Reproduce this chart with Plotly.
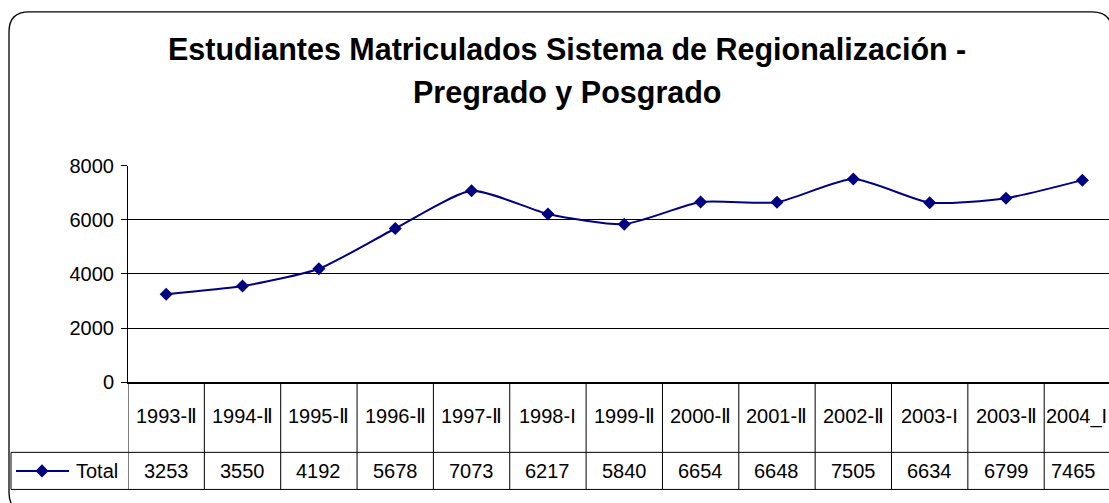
import plotly.graph_objects as go

# datos
periodos = ["1993-Ⅱ", "1994-Ⅱ", "1995-Ⅱ", "1996-Ⅱ", "1997-Ⅱ", "1998-I", "1999-Ⅱ",
            "2000-Ⅱ", "2001-Ⅱ", "2002-Ⅱ", "2003-I", "2003-Ⅱ", "2004_I"]
total = [3253, 3550, 4192, 5678, 7073, 6217, 5840, 6654, 6648, 7505, 6634, 6799, 7465]
y_ticks = [0, 2000, 4000, 6000, 8000]

W, H = 1109, 503
NAVY = "#000080"
FONT = "Arial, Liberation Sans, sans-serif"

# la captura comprime un poco el eje vertical; se corrige aqui
SY, OY = 0.954, 11.7


def px(x):
    return x / W


def py(y):
    return 1 - ((y - OY) / SY) / H


fig = go.Figure()
fig.add_trace(go.Scatter(
    x=list(range(len(periodos))), y=total,
    mode="lines+markers",
    line=dict(color=NAVY, width=2, shape="spline", smoothing=0.6),
    marker=dict(symbol="diamond", size=10, color=NAVY),
    showlegend=False, cliponaxis=False,
))

shapes = []
# borde redondeado del area del grafico
L, T, R, B, r = 9, 12.5, 1112, 512, 20
path = (f"M {px(L + r)},{py(T)} L {px(R - r)},{py(T)} "
        f"Q {px(R)},{py(T)} {px(R)},{py(T + r)} "
        f"L {px(R)},{py(B - r)} Q {px(R)},{py(B)} {px(R - r)},{py(B)} "
        f"L {px(L + r)},{py(B)} Q {px(L)},{py(B)} {px(L)},{py(B - r)} "
        f"L {px(L)},{py(T + r)} Q {px(L)},{py(T)} {px(L + r)},{py(T)} Z")
shapes.append(dict(type="path", xref="paper", yref="paper", path=path,
                   line=dict(color="black", width=1.3)))

# tabla de datos
y_axis, y_mid, y_bot = 382, 452, 489
shapes.append(dict(type="line", xref="paper", yref="paper",
                   x0=px(11), x1=1.02, y0=py(y_mid), y1=py(y_mid),
                   line=dict(color="black", width=1)))
shapes.append(dict(type="line", xref="paper", yref="paper",
                   x0=px(11), x1=1.02, y0=py(y_bot), y1=py(y_bot),
                   line=dict(color="black", width=1)))
shapes.append(dict(type="line", xref="paper", yref="paper",
                   x0=px(11), x1=px(11), y0=py(y_mid), y1=py(y_bot),
                   line=dict(color="black", width=1)))
for k in range(len(periodos) + 1):
    shapes.append(dict(type="line", xref="x", yref="paper",
                       x0=k - 0.5, x1=k - 0.5, y0=py(y_axis), y1=py(y_bot),
                       line=dict(color="black", width=1)))

# leyenda dentro de la tabla
ly = py(470.5)
shapes.append(dict(type="line", xref="paper", yref="paper",
                   x0=px(16), x1=px(69), y0=ly, y1=ly,
                   line=dict(color=NAVY, width=2)))
d = 6.5
shapes.append(dict(type="path", xref="paper", yref="paper",
                   path=(f"M {px(42)},{py(470.5 - d)} L {px(42 + d)},{ly} "
                         f"L {px(42)},{py(470.5 + d)} L {px(42 - d)},{ly} Z"),
                   fillcolor=NAVY, line=dict(color=NAVY, width=0)))

txt = dict(size=20, color="black", family=FONT)
annotations = []
last = len(periodos) - 1
for i, (p, v) in enumerate(zip(periodos, total)):
    # la ultima columna queda recortada, su texto se centra en la parte visible
    sh_p = -6 if i == last else 0
    sh_v = -9 if i == last else 0
    annotations.append(dict(x=i, xref="x", y=py(416), yref="paper", text=p,
                            xanchor="center", yanchor="middle", xshift=sh_p,
                            showarrow=False, font=txt))
    annotations.append(dict(x=i, xref="x", y=py(471), yref="paper", text=str(v),
                            xanchor="center", yanchor="middle", xshift=sh_v,
                            showarrow=False, font=txt))
annotations.append(dict(x=px(74), y=py(471), xref="paper", yref="paper", text="Total",
                        xanchor="left", yanchor="middle", showarrow=False, font=txt))

# titulo
ttl = dict(size=30.5, color="black", family=FONT)
annotations.append(dict(x=px(567), y=py(50), xref="paper", yref="paper",
                        text="<b>Estudiantes Matriculados Sistema de Regionalización -</b>",
                        xanchor="center", yanchor="middle", showarrow=False, font=ttl))
annotations.append(dict(x=px(567), y=py(93), xref="paper", yref="paper",
                        text="<b>Pregrado y Posgrado</b>",
                        xanchor="center", yanchor="middle", showarrow=False, font=ttl))

fig.update_layout(
    width=W, height=H,
    margin=dict(l=0, r=0, t=0, b=0),
    paper_bgcolor="white", plot_bgcolor="white",
    font=dict(family=FONT, size=20, color="black"),
    shapes=shapes, annotations=annotations,
    xaxis=dict(domain=[px(128), 1], range=[-0.5, -0.5 + (W - 128) / 76.35],
               showticklabels=False, showgrid=False, zeroline=False,
               showline=True, linecolor="black", linewidth=2, ticks=""),
    yaxis=dict(domain=[py(382), py(166)], range=[0, 8000],
               tickvals=y_ticks, ticks="outside", ticklen=6, tickcolor="black",
               ticklabelstandoff=3,
               showgrid=True, gridcolor="black", gridwidth=1, zeroline=False,
               showline=True, linecolor="black", linewidth=1,
               tickfont=dict(size=20, family=FONT, color="black")),
)

fig.write_html("out.html", config={"displayModeBar": False},
               post_script="document.body.style.margin='0';")
